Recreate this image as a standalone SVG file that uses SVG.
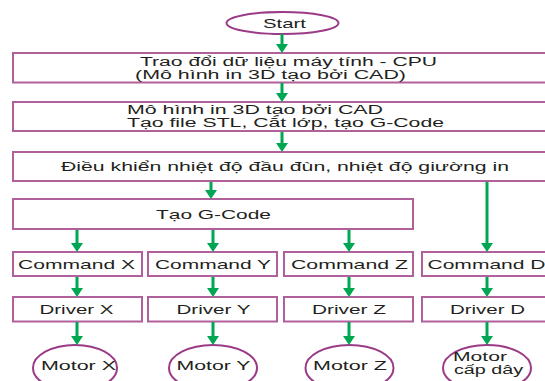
<svg xmlns="http://www.w3.org/2000/svg" width="545" height="381" viewBox="0 0 545 381">
  <style>
    .box { fill: #ffffff; stroke: #b0609b; stroke-width: 2; }
    .oval { fill: #ffffff; stroke: #9b3b87; stroke-width: 2; }
    .t { font-family: "Liberation Sans", Arial, sans-serif; font-size: 13px; fill: #231f20; }
    .s { font-size: 12px; }
    .arrow { stroke: #00a651; stroke-width: 3; fill: none; marker-end: url(#head); }
  </style>
  <defs>
    <marker id="head" markerUnits="userSpaceOnUse" viewBox="0 0 9 12" markerWidth="9" markerHeight="12" refX="3" refY="6" orient="auto">
      <path d="M0,0 L9,6 L0,12 Z" fill="#00a651"/>
    </marker>
  </defs>

  <rect width="545" height="381" fill="#ffffff"/>

  <g id="start">
    <ellipse class="oval" cx="282.5" cy="23" rx="56" ry="11"/>
    <text class="t" x="263" y="28" textLength="43" lengthAdjust="spacingAndGlyphs">Start</text>
  </g>

  <g id="trao-doi">
    <rect class="box" x="13" y="53" width="545" height="29.5"/>
    <text class="t s" x="140" y="65.5" textLength="297" lengthAdjust="spacingAndGlyphs">Trao đổi dữ liệu máy tính - CPU</text>
    <text class="t s" x="135" y="78.5" textLength="271" lengthAdjust="spacingAndGlyphs">(Mô hình in 3D tạo bởi CAD)</text>
  </g>

  <g id="mo-hinh">
    <rect class="box" x="13" y="102" width="545" height="29"/>
    <text class="t s" x="127" y="114" textLength="256" lengthAdjust="spacingAndGlyphs">Mô hình in 3D tạo bởi CAD</text>
    <text class="t s" x="127" y="127" textLength="317" lengthAdjust="spacingAndGlyphs">Tạo file STL, Cắt lớp, tạo G-Code</text>
  </g>

  <g id="dieu-khien">
    <rect class="box" x="13" y="152" width="545" height="29"/>
    <text class="t" x="61" y="171" textLength="448" lengthAdjust="spacingAndGlyphs">Điều khiển nhiệt độ đầu đùn, nhiệt độ giường in</text>
  </g>

  <g id="tao-gcode">
    <rect class="box" x="13" y="199" width="400" height="30"/>
    <text class="t" x="156" y="219" textLength="115" lengthAdjust="spacingAndGlyphs">Tạo G-Code</text>
  </g>

  <g id="command-x">
    <rect class="box" x="13" y="252" width="129" height="24"/>
    <text class="t" x="18" y="268.5" textLength="117" lengthAdjust="spacingAndGlyphs">Command X</text>
  </g>
  <g id="command-y">
    <rect class="box" x="148" y="252" width="129" height="24"/>
    <text class="t" x="155" y="268.5" textLength="116" lengthAdjust="spacingAndGlyphs">Command Y</text>
  </g>
  <g id="command-z">
    <rect class="box" x="284" y="252" width="129" height="24"/>
    <text class="t" x="291" y="268.5" textLength="117" lengthAdjust="spacingAndGlyphs">Command Z</text>
  </g>
  <g id="command-d">
    <rect class="box" x="422" y="252" width="140" height="24"/>
    <text class="t" x="427.5" y="268.5" textLength="118" lengthAdjust="spacingAndGlyphs">Command D</text>
  </g>

  <g id="driver-x">
    <rect class="box" x="13" y="297" width="129" height="24.5"/>
    <text class="t" x="39.5" y="314" textLength="74" lengthAdjust="spacingAndGlyphs">Driver X</text>
  </g>
  <g id="driver-y">
    <rect class="box" x="148" y="297" width="129" height="24.5"/>
    <text class="t" x="176.5" y="314" textLength="74" lengthAdjust="spacingAndGlyphs">Driver Y</text>
  </g>
  <g id="driver-z">
    <rect class="box" x="284" y="297" width="129" height="24.5"/>
    <text class="t" x="312" y="314" textLength="74" lengthAdjust="spacingAndGlyphs">Driver Z</text>
  </g>
  <g id="driver-d">
    <rect class="box" x="422" y="297" width="140" height="24.5"/>
    <text class="t" x="450" y="314" textLength="75" lengthAdjust="spacingAndGlyphs">Driver D</text>
  </g>

  <g id="motor-x">
    <ellipse class="oval" cx="75" cy="368" rx="42" ry="23"/>
    <text class="t" x="41" y="370" textLength="75" lengthAdjust="spacingAndGlyphs">Motor X</text>
  </g>
  <g id="motor-y">
    <ellipse class="oval" cx="213" cy="368" rx="44" ry="23"/>
    <text class="t" x="176.5" y="370" textLength="74" lengthAdjust="spacingAndGlyphs">Motor Y</text>
  </g>
  <g id="motor-z">
    <ellipse class="oval" cx="349.5" cy="368" rx="44" ry="23"/>
    <text class="t" x="313" y="370" textLength="74" lengthAdjust="spacingAndGlyphs">Motor Z</text>
  </g>
  <g id="motor-cap-day">
    <ellipse class="oval" cx="487" cy="368" rx="44" ry="23"/>
    <text class="t s" x="453" y="360.5" textLength="54" lengthAdjust="spacingAndGlyphs">Motor</text>
    <text class="t s" x="454" y="374" textLength="69" lengthAdjust="spacingAndGlyphs">cấp dây</text>
  </g>

  <g id="connectors">
    <line class="arrow" x1="282" y1="34" x2="282" y2="47"/>
    <line class="arrow" x1="282" y1="83" x2="282" y2="96"/>
    <line class="arrow" x1="282" y1="132" x2="282" y2="146"/>
    <line class="arrow" x1="211" y1="182" x2="211" y2="193"/>
    <line class="arrow" x1="487" y1="182" x2="487" y2="246"/>
    <line class="arrow" x1="77" y1="230" x2="77" y2="246"/>
    <line class="arrow" x1="213" y1="230" x2="213" y2="246"/>
    <line class="arrow" x1="349" y1="230" x2="349" y2="246"/>
    <line class="arrow" x1="77" y1="277" x2="77" y2="291"/>
    <line class="arrow" x1="213" y1="277" x2="213" y2="291"/>
    <line class="arrow" x1="349" y1="277" x2="349" y2="291"/>
    <line class="arrow" x1="487" y1="277" x2="487" y2="291"/>
    <line class="arrow" x1="77" y1="322" x2="77" y2="339"/>
    <line class="arrow" x1="213" y1="322" x2="213" y2="339"/>
    <line class="arrow" x1="349" y1="322" x2="349" y2="339"/>
    <line class="arrow" x1="487" y1="322" x2="487" y2="339"/>
  </g>
</svg>
